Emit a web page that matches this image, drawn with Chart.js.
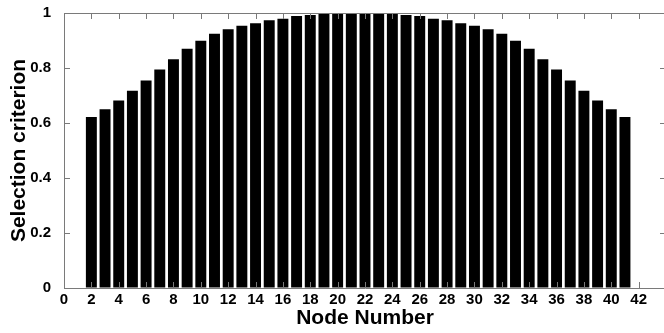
<!DOCTYPE html>
<html>
<head>
<meta charset="utf-8">
<script src="https://cdn.jsdelivr.net/npm/chart.js@4/dist/chart.umd.min.js"></script>
<style>
  html, body { margin: 0; padding: 0; overflow: hidden; background: #fff; }
  #wrap { width: 664px; height: 333px; overflow: hidden; }
</style>
</head>
<body>
<div id="wrap"><canvas id="chart" width="680" height="333"></canvas></div>
<script>
// Node numbers and selection criterion
const nodes = [2, 3, 4, 5, 6, 7, 8, 9, 10, 11, 12, 13, 14, 15, 16, 17, 18, 19, 20, 21,
  22, 23, 24, 25, 26, 27, 28, 29, 30, 31, 32, 33, 34, 35, 36, 37, 38, 39, 40, 41];
const criterion = [0.622, 0.650, 0.682, 0.717, 0.755, 0.795, 0.832, 0.870, 0.899, 0.925,
  0.941, 0.954, 0.963, 0.974, 0.979, 0.989, 0.993, 0.997, 1.0, 1.0,
  1.0, 1.0, 0.997, 0.993, 0.989, 0.979, 0.974, 0.963, 0.954, 0.941,
  0.925, 0.899, 0.870, 0.832, 0.795, 0.755, 0.717, 0.682, 0.650, 0.622];

const xMin = 0, xMax = 44, xLastTick = 42, xStep = 2;
const yMin = 0, yMax = 1, yStep = 0.2;

const axisColor = '#7a7a7a';
const fontFamily = '"Liberation Sans", Arial, sans-serif';

// draws the Matlab-style box with inward ticks
const boxPlugin = {
  id: 'matlabBox',
  afterDraw(chart) {
    const { ctx, chartArea: a, scales: { x, y } } = chart;
    const tick = 6;
    ctx.save();
    ctx.strokeStyle = axisColor;
    ctx.lineWidth = 1;
    ctx.beginPath();
    ctx.rect(Math.round(a.left) + 0.5, Math.round(a.top) + 0.5,
      Math.round(a.right - a.left), Math.round(a.bottom - a.top));
    x.ticks.forEach(t => {
      const px = Math.round(x.getPixelForValue(t.value)) + 0.5;
      ctx.moveTo(px, a.bottom);
      ctx.lineTo(px, a.bottom - tick);
      ctx.moveTo(px, a.top);
      ctx.lineTo(px, a.top + tick);
    });
    y.ticks.forEach(t => {
      const py = Math.round(y.getPixelForValue(t.value)) + 0.5;
      ctx.moveTo(a.left, py);
      ctx.lineTo(a.left + tick, py);
      ctx.moveTo(a.right, py);
      ctx.lineTo(a.right - tick, py);
    });
    ctx.stroke();
    ctx.restore();
  }
};

new Chart(document.getElementById('chart'), {
  type: 'bar',
  data: {
    labels: nodes,
    datasets: [{
      data: criterion,
      backgroundColor: '#000',
      borderWidth: 0,
      categoryPercentage: 1,
      barPercentage: 0.8
    }]
  },
  options: {
    responsive: false,
    animation: false,
    devicePixelRatio: 1,
    layout: { padding: { top: 13, right: 14, left: 0, bottom: 0 } },
    plugins: { legend: { display: false }, tooltip: { enabled: false } },
    scales: {
      x: {
        type: 'linear',
        offset: false,
        min: xMin,
        max: xMax,
        grid: { display: false, drawTicks: false },
        border: { display: false },
        afterBuildTicks: scale => {
          scale.ticks = scale.ticks.filter(t => t.value <= xLastTick);
        },
        afterFit: scale => { scale.height = 45; },
        ticks: {
          stepSize: xStep,
          autoSkip: false,
          maxRotation: 0,
          padding: 3,
          color: '#000',
          font: { family: fontFamily, size: 15, weight: 'bold' }
        },
        title: {
          display: true,
          text: 'Node Number',
          color: '#000',
          padding: { top: 0, bottom: 2 },
          font: { family: fontFamily, size: 21, weight: 'bold' }
        }
      },
      y: {
        min: yMin,
        max: yMax,
        grid: {
          display: true,
          drawOnChartArea: false,
          drawTicks: true,
          tickLength: 11,
          color: 'rgba(0,0,0,0)'
        },
        border: { display: false },
        afterFit: scale => { scale.width = 64; },
        ticks: {
          stepSize: yStep,
          padding: 2,
          color: '#000',
          font: { family: fontFamily, size: 15, weight: 'bold' },
          callback: v => String(Math.round(v * 10) / 10)
        },
        title: {
          display: true,
          text: 'Selection criterion',
          color: '#000',
          padding: { top: 7, bottom: 0 },
          font: { family: fontFamily, size: 21, weight: 'bold' }
        }
      }
    }
  },
  plugins: [boxPlugin]
});
</script>
</body>
</html>
